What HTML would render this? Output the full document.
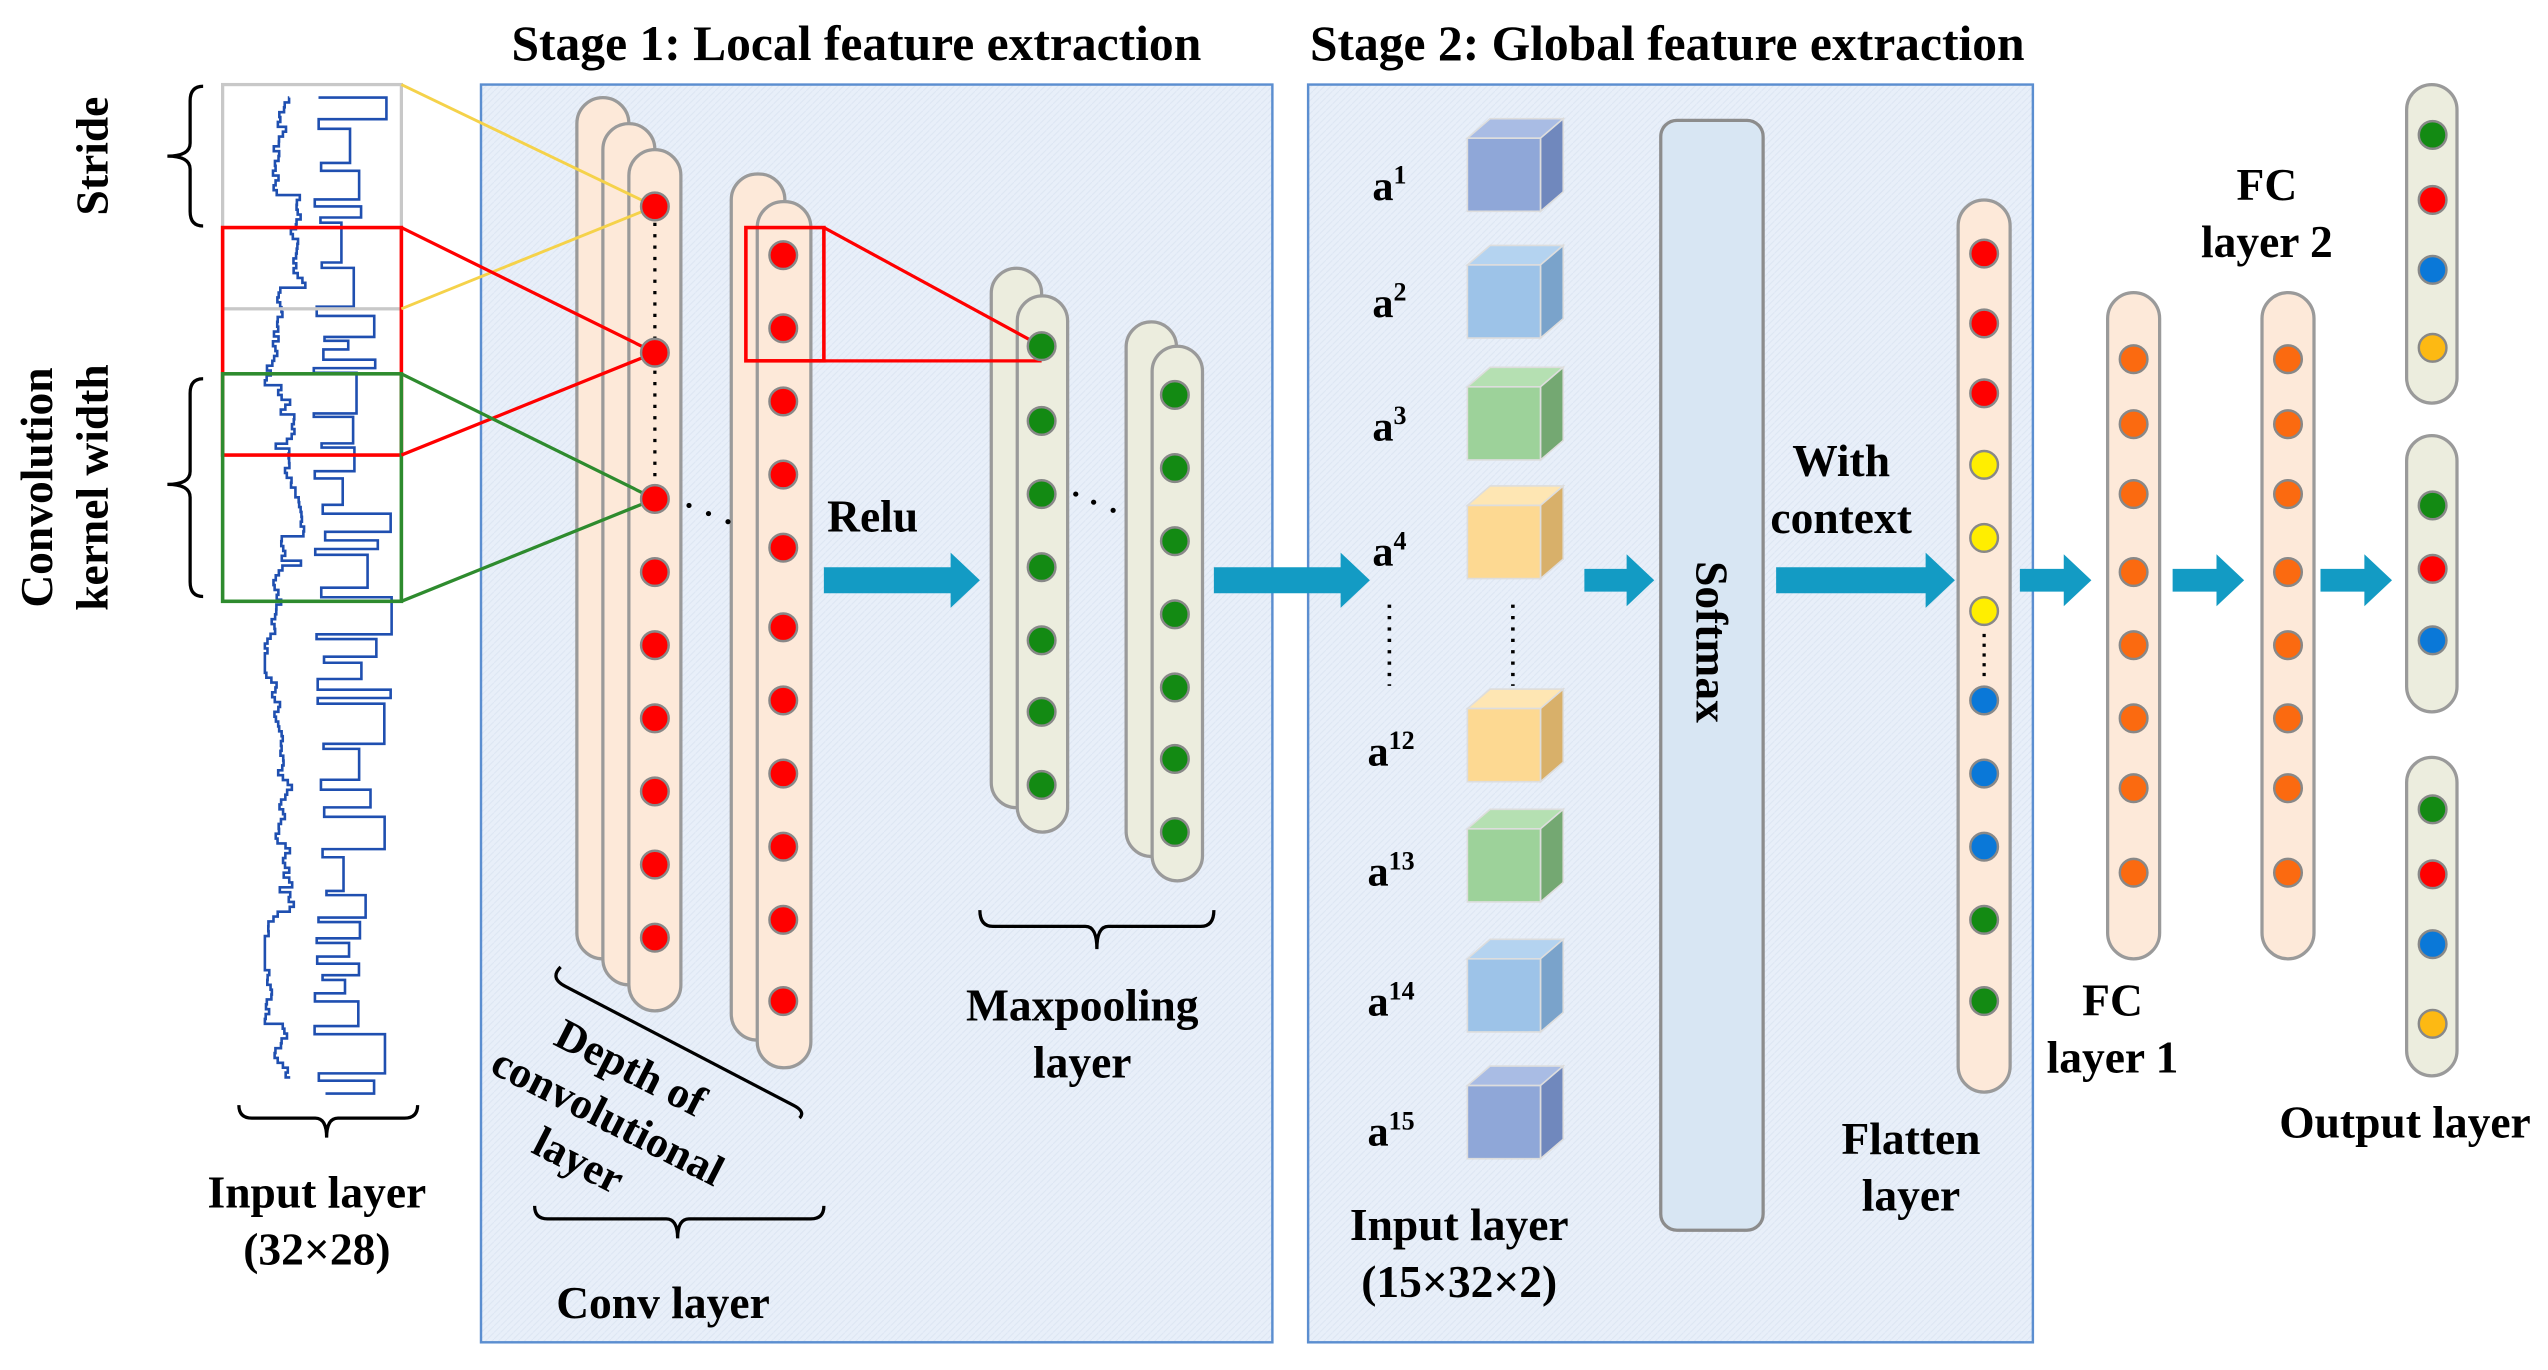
<!DOCTYPE html>
<html><head><meta charset="utf-8"><style>
html,body{margin:0;padding:0;background:#fff;}
svg{display:block;}
text{font-family:"Liberation Serif",serif;font-weight:bold;fill:#000;}
</style></head><body>
<svg id="s" width="2548" height="1370" viewBox="0 0 1568 843" xmlns="http://www.w3.org/2000/svg">
<defs>
<pattern id="hatch" width="4" height="4" patternUnits="userSpaceOnUse"><rect width="4" height="4" fill="#e8eff9"/><path d="M0 4L4 0" stroke="#dde6f3" stroke-width="0.6"/></pattern>
</defs>
<text x="527" y="37" font-size="30.5" text-anchor="middle">Stage 1: Local feature extraction</text>
<text x="1026" y="37" font-size="30.5" text-anchor="middle">Stage 2: Global feature extraction</text>
<rect x="296" y="52" width="487" height="774" fill="url(#hatch)" stroke="#5b8ed0" stroke-width="1.5"/>
<rect x="805" y="52" width="446" height="774" fill="url(#hatch)" stroke="#5b8ed0" stroke-width="1.5"/>

<g id="sig" fill="none" stroke="#1f4fb0" stroke-width="1.6"></g>
<rect x="137" y="52" width="110" height="138" fill="none" stroke="#c8c8c8" stroke-width="2"/>
<rect x="137" y="140" width="110" height="140" fill="none" stroke="#f00" stroke-width="2.2"/>
<rect x="137" y="230" width="110" height="140" fill="none" stroke="#2e8b2e" stroke-width="2.2"/>

<path d="M125 53 Q117 53 117 62 L117 88 Q117 96 103 96 Q117 96 117 104 L117 130 Q117 139 125 139" fill="none" stroke="#000" stroke-width="2"/>
<path d="M125 233 Q117 233 117 242 L117 290 Q117 298 103 298 Q117 298 117 306 L117 358 Q117 367 125 367" fill="none" stroke="#000" stroke-width="2"/>
<text transform="translate(66,96) rotate(-90)" font-size="28" text-anchor="middle">Stride</text>
<text transform="translate(32,300) rotate(-90)" font-size="28" text-anchor="middle">Convolution</text>
<text transform="translate(66,300) rotate(-90)" font-size="28" text-anchor="middle">kernel width</text>
<path d="M147 680 Q147 688 155 688 L194 688 Q201 688 201 700 Q201 688 208 688 L249 688 Q257 688 257 680" fill="none" stroke="#000" stroke-width="2"/>
<text x="195" y="743" font-size="28" text-anchor="middle">Input layer</text>
<text x="195" y="778" font-size="28" text-anchor="middle">(32×28)</text>

<g fill="#fde9d9" stroke="#9a9a9a" stroke-width="2">
<rect x="355" y="60" width="32" height="530" rx="16"/>
<rect x="371" y="76" width="32" height="530" rx="16"/>
<rect x="387" y="92" width="32" height="530" rx="16"/>
<rect x="450" y="107" width="33" height="533" rx="16"/>
<rect x="466" y="124" width="33" height="533" rx="16"/>
</g>
<line x1="403" y1="137" x2="403" y2="297" stroke="#000" stroke-width="2" stroke-dasharray="2,5"/>
<line x1="247" y1="52" x2="403" y2="127" stroke="#f5d24a" stroke-width="1.8"/>
<line x1="247" y1="190" x2="403" y2="127" stroke="#f5d24a" stroke-width="1.8"/>
<line x1="247" y1="140" x2="403" y2="217" stroke="#f00" stroke-width="2"/>
<line x1="247" y1="280" x2="403" y2="217" stroke="#f00" stroke-width="2"/>
<line x1="247" y1="230" x2="403" y2="307" stroke="#2e8b2e" stroke-width="2"/>
<line x1="247" y1="370" x2="403" y2="307" stroke="#2e8b2e" stroke-width="2"/>
<g fill="#f00" stroke="#888" stroke-width="1.5">
<circle cx="403" cy="127" r="8.5"/><circle cx="403" cy="217" r="8.5"/><circle cx="403" cy="307" r="8.5"/>
<circle cx="403" cy="352" r="8.5"/><circle cx="403" cy="397" r="8.5"/><circle cx="403" cy="442" r="8.5"/>
<circle cx="403" cy="487" r="8.5"/><circle cx="403" cy="532" r="8.5"/><circle cx="403" cy="577" r="8.5"/>
<circle cx="482" cy="157" r="8.5"/><circle cx="482" cy="202" r="8.5"/><circle cx="482" cy="247" r="8.5"/>
<circle cx="482" cy="292" r="8.5"/><circle cx="482" cy="337" r="8.5"/><circle cx="482" cy="386" r="8.5"/>
<circle cx="482" cy="431" r="8.5"/><circle cx="482" cy="476" r="8.5"/><circle cx="482" cy="521" r="8.5"/>
<circle cx="482" cy="566" r="8.5"/><circle cx="482" cy="616" r="8.5"/>
</g>
<g fill="#000"><circle cx="424" cy="311" r="1.6"/><circle cx="436" cy="316" r="1.6"/><circle cx="448" cy="321" r="1.6"/>
<circle cx="662" cy="304" r="1.6"/><circle cx="673" cy="309" r="1.6"/><circle cx="685" cy="314" r="1.6"/></g>
<rect x="459" y="140" width="48" height="82" fill="none" stroke="#f00" stroke-width="2.2"/>

<path d="M345 595 Q338 602 348 607 L488 680 Q496 684 492 688" fill="none" stroke="#000" stroke-width="2"/>
<text transform="translate(384,665) rotate(27)" font-size="27" text-anchor="middle">Depth of</text>
<text transform="translate(370,695) rotate(27)" font-size="27" text-anchor="middle">convolutional</text>
<text transform="translate(352,722) rotate(27)" font-size="27" text-anchor="middle">layer</text>
<path d="M329 742 Q329 750 337 750 L410 750 Q417 750 417 762 Q417 750 424 750 L499 750 Q507 750 507 742" fill="none" stroke="#000" stroke-width="2"/>
<text x="408" y="811" font-size="28" text-anchor="middle">Conv layer</text>

<g fill="#139bc4">
<path d="M507 349 H585 V340 L603 357 L585 374 V365 H507Z"/>
<path d="M747 349 H825 V340 L843 357 L825 374 V365 H747Z"/>
<path d="M975 350 H1001 V341 L1018 357 L1001 373 V364 H975Z"/>
<path d="M1093 349 H1185 V340 L1203 357 L1185 374 V365 H1093Z"/>
<path d="M1243 350 H1270 V341 L1287 357 L1270 373 V364 H1243Z"/>
<path d="M1337 350 H1364 V341 L1381 357 L1364 373 V364 H1337Z"/>
<path d="M1428 350 H1455 V341 L1472 357 L1455 373 V364 H1428Z"/>
</g>
<text x="537" y="327" font-size="28" text-anchor="middle">Relu</text>

<g fill="#ecedde" stroke="#9a9a9a" stroke-width="2">
<rect x="610" y="165" width="31" height="332" rx="15.5"/>
<rect x="626" y="182" width="31" height="330" rx="15.5"/>
<rect x="693" y="198" width="31" height="329" rx="15.5"/>
<rect x="709" y="213" width="31" height="329" rx="15.5"/>
</g>
<line x1="507" y1="140" x2="641" y2="213" stroke="#f00" stroke-width="2"/>
<line x1="507" y1="222" x2="641" y2="222" stroke="#f00" stroke-width="2"/>
<g fill="#138a13" stroke="#888" stroke-width="1.5">
<circle cx="641" cy="213" r="8.5"/><circle cx="641" cy="259" r="8.5"/><circle cx="641" cy="304" r="8.5"/><circle cx="641" cy="349" r="8.5"/><circle cx="641" cy="394" r="8.5"/><circle cx="641" cy="438" r="8.5"/><circle cx="641" cy="483" r="8.5"/>
<circle cx="723" cy="243" r="8.5"/><circle cx="723" cy="288" r="8.5"/><circle cx="723" cy="333" r="8.5"/><circle cx="723" cy="378" r="8.5"/><circle cx="723" cy="423" r="8.5"/><circle cx="723" cy="467" r="8.5"/><circle cx="723" cy="512" r="8.5"/>
</g>
<path d="M603 560 Q603 570 611 570 L668 570 Q675 570 675 584 Q675 570 682 570 L739 570 Q747 570 747 560" fill="none" stroke="#000" stroke-width="2"/>
<text x="666" y="628" font-size="28" text-anchor="middle">Maxpooling</text>
<text x="666" y="663" font-size="28" text-anchor="middle">layer</text>

<g id="cubes"></g>
<g font-size="26" text-anchor="middle">
<text x="855" y="123">a<tspan font-size="16" dy="-10">1</tspan></text>
<text x="855" y="195">a<tspan font-size="16" dy="-10">2</tspan></text>
<text x="855" y="271">a<tspan font-size="16" dy="-10">3</tspan></text>
<text x="855" y="348">a<tspan font-size="16" dy="-10">4</tspan></text>
<text x="856" y="471">a<tspan font-size="16" dy="-10">12</tspan></text>
<text x="856" y="545">a<tspan font-size="16" dy="-10">13</tspan></text>
<text x="856" y="625">a<tspan font-size="16" dy="-10">14</tspan></text>
<text x="856" y="705">a<tspan font-size="16" dy="-10">15</tspan></text>
</g>
<line x1="855" y1="372" x2="855" y2="422" stroke="#000" stroke-width="2.2" stroke-dasharray="2,5"/>
<line x1="931" y1="372" x2="931" y2="422" stroke="#000" stroke-width="2.2" stroke-dasharray="2,5"/>
<text x="898" y="763" font-size="28" text-anchor="middle">Input layer</text>
<text x="898" y="798" font-size="28" text-anchor="middle">(15×32×2)</text>

<rect x="1022" y="74" width="63" height="683" rx="10" fill="#d8e6f3" stroke="#8c8c8c" stroke-width="2"/>
<text transform="translate(1044,395) rotate(90)" font-size="28" text-anchor="middle">Softmax</text>
<text x="1133" y="293" font-size="28" text-anchor="middle">With</text>
<text x="1133" y="328" font-size="28" text-anchor="middle">context</text>

<rect x="1205" y="123" width="32" height="549" rx="16" fill="#fde9d9" stroke="#9a9a9a" stroke-width="2"/>
<g stroke="#888" stroke-width="1.5">
<circle cx="1221" cy="156" r="8.5" fill="#f00"/><circle cx="1221" cy="199" r="8.5" fill="#f00"/><circle cx="1221" cy="242" r="8.5" fill="#f00"/>
<circle cx="1221" cy="286" r="8.5" fill="#ffee00"/><circle cx="1221" cy="331" r="8.5" fill="#ffee00"/><circle cx="1221" cy="376" r="8.5" fill="#ffee00"/>
<circle cx="1221" cy="431" r="8.5" fill="#0a78d8"/><circle cx="1221" cy="476" r="8.5" fill="#0a78d8"/><circle cx="1221" cy="521" r="8.5" fill="#0a78d8"/>
<circle cx="1221" cy="566" r="8.5" fill="#138a13"/><circle cx="1221" cy="616" r="8.5" fill="#138a13"/>
</g>
<line x1="1221" y1="390" x2="1221" y2="418" stroke="#000" stroke-width="2" stroke-dasharray="2,4"/>
<text x="1176" y="710" font-size="28" text-anchor="middle">Flatten</text>
<text x="1176" y="745" font-size="28" text-anchor="middle">layer</text>

<g fill="#fde9d9" stroke="#9a9a9a" stroke-width="2">
<rect x="1297" y="180" width="32" height="410" rx="16"/>
<rect x="1392" y="180" width="32" height="410" rx="16"/>
</g>
<g fill="#fb6a10" stroke="#888" stroke-width="1.5" id="fc"></g>
<text x="1300" y="625" font-size="28" text-anchor="middle">FC</text>
<text x="1300" y="660" font-size="28" text-anchor="middle">layer 1</text>
<text x="1395" y="123" font-size="28" text-anchor="middle">FC</text>
<text x="1395" y="158" font-size="28" text-anchor="middle">layer 2</text>

<g fill="#ecedde" stroke="#9a9a9a" stroke-width="2">
<rect x="1481" y="52" width="31" height="196" rx="15.5"/>
<rect x="1481" y="268" width="31" height="170" rx="15.5"/>
<rect x="1481" y="466" width="31" height="196" rx="15.5"/>
</g>
<g stroke="#888" stroke-width="1.5">
<circle cx="1497" cy="83" r="8.5" fill="#138a13"/><circle cx="1497" cy="123" r="8.5" fill="#f00"/><circle cx="1497" cy="166" r="8.5" fill="#0a78d8"/><circle cx="1497" cy="214" r="8.5" fill="#fdb913"/>
<circle cx="1497" cy="311" r="8.5" fill="#138a13"/><circle cx="1497" cy="350" r="8.5" fill="#f00"/><circle cx="1497" cy="394" r="8.5" fill="#0a78d8"/>
<circle cx="1497" cy="498" r="8.5" fill="#138a13"/><circle cx="1497" cy="538" r="8.5" fill="#f00"/><circle cx="1497" cy="581" r="8.5" fill="#0a78d8"/><circle cx="1497" cy="630" r="8.5" fill="#fdb913"/>
</g>
<text x="1480" y="700" font-size="28" text-anchor="middle">Output layer</text>
</svg>
<script>
var NS="http://www.w3.org/2000/svg";
function el(t,a,p){var e=document.createElementNS(NS,t);for(var k in a)e.setAttribute(k,a[k]);p.appendChild(e);return e;}
var fc=document.getElementById('fc');
[221,261,304,352,397,442,485,537].forEach(function(y){el('circle',{cx:1313,cy:y,r:8.5},fc);el('circle',{cx:1408,cy:y,r:8.5},fc);});
var cubes=document.getElementById('cubes');
[[107,'#8fa7d8','#a9bce4','#7088bd'],[185,'#9dc3e8','#b4d3f0','#7aa3cb'],[260,'#9dd29a','#b5e0b2','#74a872'],[333,'#fdd992','#fee6b3','#d8b06a'],[458,'#fdd992','#fee6b3','#d8b06a'],[532,'#9dd29a','#b5e0b2','#74a872'],[612,'#9dc3e8','#b4d3f0','#7aa3cb'],[690,'#8fa7d8','#a9bce4','#7088bd']].forEach(function(c){
 var y=c[0]-22,x=903,w=45,h=45,d=14,dy=12;
 el('polygon',{points:[x,y,x+d,y-dy,x+w+d,y-dy,x+w,y].join(' '),fill:c[2],stroke:'#ddd','stroke-width':1},cubes);
 el('polygon',{points:[x+w,y,x+w+d,y-dy,x+w+d,y+h-dy,x+w,y+h].join(' '),fill:c[3],stroke:'#ddd','stroke-width':1},cubes);
 el('rect',{x:x,y:y,width:w,height:h,fill:c[1],stroke:'#ddd','stroke-width':1},cubes);
});
var sig=document.getElementById('sig');var seed=7;function r(){seed=(seed*9301+49297)%233280;return seed/233280;}
var d='M178 60',x=178;for(var y=60;y<665;y+=3){var nx=x+(r()-0.5)*7;if(r()<0.08)nx=166+r()*20;nx=Math.max(163,Math.min(188,nx));d+=' V'+y+' H'+nx.toFixed(1);x=nx;}
el('path',{d:d},sig);
var d2='M196 60',yy=60;while(yy<665){var w=210+r()*32;var hgt=5+r()*20;d2+=' V'+yy.toFixed(1)+' H'+w.toFixed(1)+' V'+(yy+hgt).toFixed(1)+' H'+(193+r()*8).toFixed(1);yy+=hgt+2+r()*5;}
el('path',{d:d2},sig);
</script>
</body></html>
